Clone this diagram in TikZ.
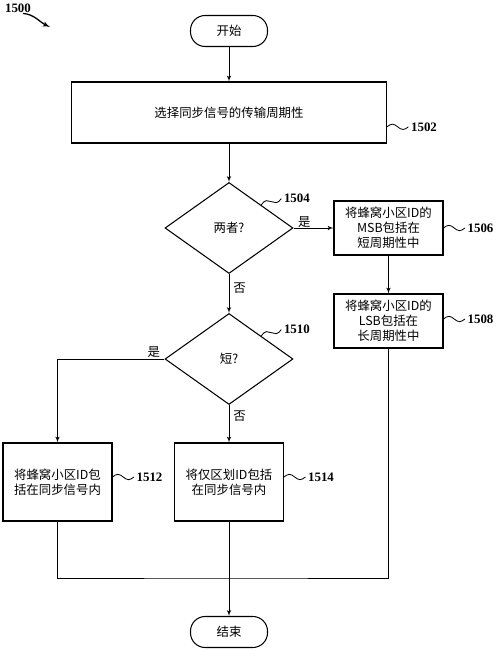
\documentclass[tikz,border=0pt]{standalone}
\usepackage{fontspec}
\setmainfont{Noto Sans CJK SC}
\newfontfamily\numfont{Liberation Serif}
\usepackage{tikz}
\usetikzlibrary{shapes,arrows,positioning,calc}
\tikzset{
block/.style = {draw, fill=white, rectangle, align = center, line width=0.9pt, minimum width=3.27cm},
condition/.style = {draw, fill=white, diamond, align = center, line width=0.9pt, inner sep=0pt, minimum width=3.84cm, minimum height=2.73cm},
terminal/.style = {draw, fill=white, rectangle, rounded corners=0.44cm, line width=0.9pt, minimum width=2.31cm, minimum height=0.93cm},
refnum/.style = {font=\numfont\bfseries\fontsize{11}{13}\selectfont, inner sep=2pt},
}

\begin{document}
\begin{tikzpicture}[auto,>=latex', line width=0.7pt, font=\fontsize{10.6}{13}\selectfont]
        \useasboundingbox (0,0) rectangle (15,19.53);
        \node [refnum] (fignum) at (0.54,19.29) {1500};
        \coordinate (figptr) at (1.5,18.72);
        \draw [->, line width=1.1pt] ([xshift=0.15cm,yshift=0.05cm]fignum.south) to[out=-5,in=155] (figptr);

        %start and first step
        \node [terminal] (start) at (6.87,18.60) {开始};
        \node [block, minimum width=9.45cm, minimum height=1.83cm] (select) at (6.87,16.155) {选择同步信号的传输周期性};
        %decisions
        \node [condition] (both) at (6.87,12.69) {两者?};
        \node [condition] (short) at (6.87,8.76) {短?};
        %right column
        \node [block, minimum height=1.62cm] (msb) at (11.655,12.69) {将蜂窝小区ID的\\MSB包括在\\短周期性中};
        \node [block, minimum height=1.62cm] (lsb) at (11.655,9.90) {将蜂窝小区ID的\\LSB包括在\\长周期性中};
        %bottom row
        \node [block, minimum height=2.34cm] (cellid) at (1.725,5.07) {将蜂窝小区ID包\\括在同步信号内};
        \node [block, minimum height=2.34cm] (sectorid) at (6.87,5.07) {将仅区划ID包括\\在同步信号内};
        \node [terminal] (finish) at (6.87,0.57) {结束};
        \coordinate (merge) at (6.87,2.19);

        \draw [->] (start) -- (select);
        \draw [->] (select) -- (both);
        \draw [->] (both) -- node [above, pos=0.27, inner sep=0pt] {是} (msb);
        \draw [->] (msb) -- (lsb);
        \draw [->] (both) -- node [right, pos=0.36] {否} (short);
        \draw [->] (short.west) -| node [above, pos=0.05, inner sep=1pt] {是} (cellid.north);
        \draw [->] (short) -- node [right, pos=0.3] {否} (sectorid);
        \draw [->] (sectorid) -- (finish);
        \draw (cellid) |- (merge) -| (lsb);

        %reference numbers
        \draw ([yshift=-0.43cm]select.east) sin ++(0.16,0.08) cos ++(0.16,-0.08) sin ++(0.16,-0.08) cos ++(0.16,0.08) node [refnum, right] (l1502) {1502};
        \draw (both.north east) sin ++(0.15,0.13) cos ++(0.15,-0.03) sin ++(0.15,-0.03) cos ++(0.15,0.12) node [refnum, right] (l1504) {1504};
        \draw (msb.east) sin ++(0.16,0.08) cos ++(0.16,-0.08) sin ++(0.16,-0.08) cos ++(0.16,0.08) node [refnum, right] (l1506) {1506};
        \draw ([yshift=0.06cm]lsb.east) sin ++(0.16,0.08) cos ++(0.16,-0.08) sin ++(0.16,-0.08) cos ++(0.16,0.08) node [refnum, right] (l1508) {1508};
        \draw (short.north east) sin ++(0.15,0.13) cos ++(0.15,-0.03) sin ++(0.15,-0.03) cos ++(0.15,0.12) node [refnum, right] (l1510) {1510};
        \draw ([yshift=0.15cm]cellid.east) sin ++(0.16,0.08) cos ++(0.16,-0.08) sin ++(0.16,-0.08) cos ++(0.16,0.08) node [refnum, right] (l1512) {1512};
        \draw ([yshift=0.15cm]sectorid.east) sin ++(0.16,0.08) cos ++(0.16,-0.08) sin ++(0.16,-0.08) cos ++(0.16,0.08) node [refnum, right] (l1514) {1514};
        \end{tikzpicture}
\end{document}
